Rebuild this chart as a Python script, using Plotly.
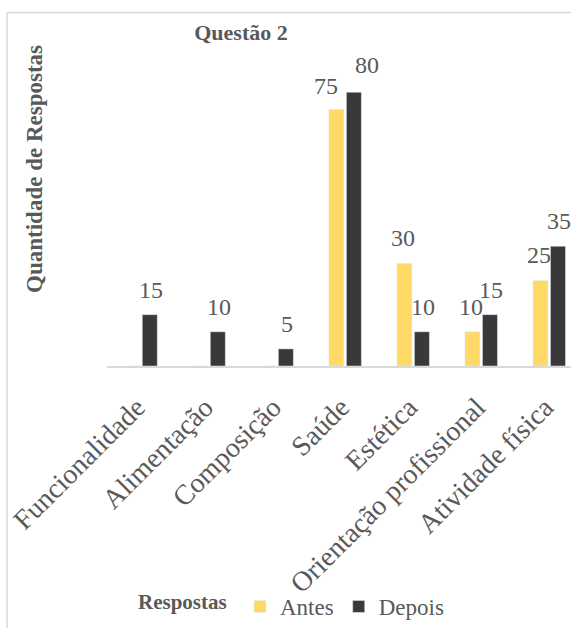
import plotly.graph_objects as go

categories = ["Funcionalidade", "Alimentação", "Composição", "Saúde", "Estética",
              "Orientação profissional", "Atividade física"]
antes = [0, 0, 0, 75, 30, 10, 25]
depois = [15, 10, 5, 80, 10, 15, 35]
series_names = ["Antes", "Depois"]

YELLOW = "#FFD966"
DARK = "#3A3838"
TXT = "#595959"
FONT = "Times New Roman, Liberation Serif, serif"

W, H = 571, 628
L, R, T, B = 107, 0, 58, 259
pw, ph = W - L - R, H - T - B


def px_x(p):
    return (p - L) / pw


def px_y(p):
    return (H - B - p) / ph


fig = go.Figure()
fig.add_trace(go.Bar(x=categories, y=antes, name=series_names[0], marker_color=YELLOW))
fig.add_trace(go.Bar(x=categories, y=depois, name=series_names[1], marker_color=DARK))

# data labels (skip zeros)
nudges = {(0, 3): (-9, -2), (1, 3): (12, 2)}
annotations = []
for si, vals in enumerate([antes, depois]):
    base_shift = -10 if si == 0 else 10
    for ci, (c, v) in enumerate(zip(categories, vals)):
        if v == 0:
            continue
        nx, ny = nudges.get((si, ci), (0, 0))
        annotations.append(dict(
            x=c, y=v, xref="x", yref="y", text=str(v), showarrow=False,
            xshift=base_shift + nx, yshift=10 + ny, yanchor="bottom", xanchor="center",
            font=dict(family=FONT, size=24, color=TXT)))

annotations.append(dict(
    x=px_x(35), y=px_y(170), xref="paper", yref="paper", text="<b>Quantidade de Respostas</b>",
    textangle=-90, showarrow=False, xanchor="center", yanchor="middle",
    font=dict(family=FONT, size=23, color=TXT)))
annotations.append(dict(
    x=px_x(182), y=px_y(607), xref="paper", yref="paper", text="<b>Respostas</b>",
    showarrow=False, xanchor="center", yanchor="middle",
    font=dict(family=FONT, size=21, color=TXT)))

fig.update_layout(
    width=W, height=H,
    margin=dict(l=L, r=R, t=T, b=B),
    paper_bgcolor="white", plot_bgcolor="white",
    barmode="group", bargap=0.485, bargroupgap=0.143,
    title=dict(text="<b>Questão 2</b>", x=241 / W, xanchor="center",
               y=1 - 32 / H, yanchor="middle",
               font=dict(family=FONT, size=22, color=TXT)),
    xaxis=dict(range=[-0.5, 6.32], showline=True, linecolor="#D9D9D9", linewidth=1.5,
               ticks="", tickangle=-45, tickfont=dict(family=FONT, size=28, color=TXT),
               ticklabelstandoff=12, ticklabelshift=-4,
               showgrid=False),
    yaxis=dict(range=[0, 90], showgrid=False, showticklabels=False, zeroline=False,
               showline=False),
    legend=dict(orientation="h", x=px_x(240), y=px_y(612), xanchor="left", yanchor="middle",
                font=dict(family=FONT, size=23, color=TXT), bgcolor="rgba(0,0,0,0)"),
    annotations=annotations,
    shapes=[
        dict(type="line", xref="paper", yref="paper", x0=px_x(7), x1=px_x(7),
             y0=px_y(12), y1=px_y(640), line=dict(color="#D9D9D9", width=1.5)),
        dict(type="line", xref="paper", yref="paper", x0=px_x(7), x1=px_x(600),
             y0=px_y(12), y1=px_y(12), line=dict(color="#D9D9D9", width=1.5)),
    ],
)

fig.write_html("out.html")
